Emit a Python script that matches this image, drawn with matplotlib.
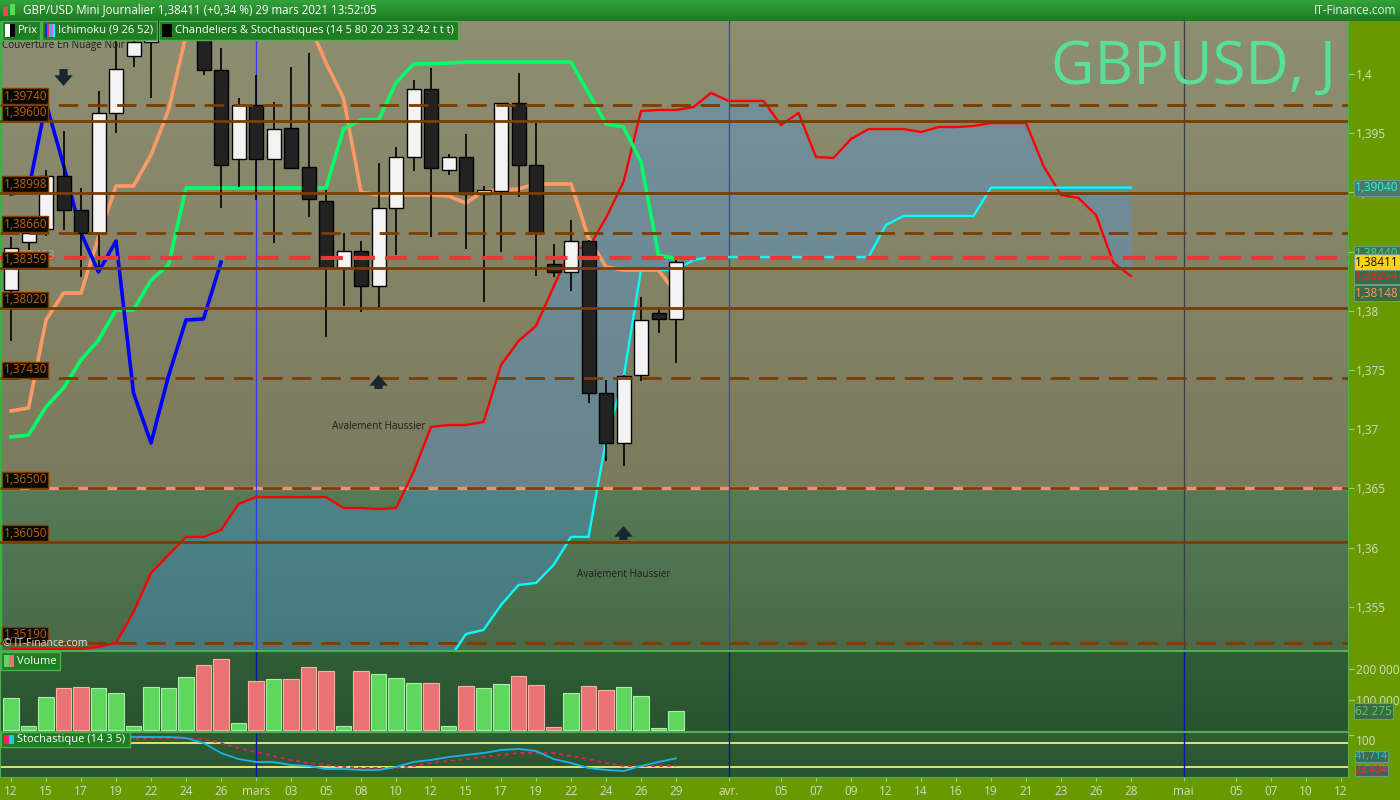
import numpy as np
import matplotlib
matplotlib.use('Agg')
import matplotlib.pyplot as plt
import matplotlib.colors as mcolors
from matplotlib.patches import Rectangle
from matplotlib import transforms
from matplotlib.ticker import FuncFormatter

plt.rcParams['font.family'] = ['Open Sans', 'DejaVu Sans']

'''
données (lues sur le graphique)
'''
# bougies journalières, du 12 février au 29 mars
ouv = [1.38176, 1.38581, 1.38691, 1.39138, 1.38851, 1.38657, 1.39671, 1.40152, 1.40270, 1.40500,
       1.40680, 1.40750, 1.40034, 1.39282, 1.39738, 1.39282, 1.39544, 1.39215, 1.38927, 1.38361,
       1.38505, 1.38209, 1.38868, 1.39299, 1.39873, 1.39189, 1.39299, 1.38986, 1.39012, 1.39755,
       1.39231, 1.38395, 1.38328, 1.38590, 1.37306, 1.36883, 1.37458, 1.37981, 1.37931]
haut = [1.38623, 1.38699, 1.39189, 1.39519, 1.39037, 1.39856, 1.40321, 1.40400, 1.40700, 1.40820,
        1.40900, 1.40800, 1.40220, 1.39797, 1.39992, 1.39763, 1.40059, 1.40177, 1.39020, 1.38657,
        1.38590, 1.39248, 1.39383, 1.39949, 1.40051, 1.39324, 1.39493, 1.39054, 1.39755, 1.40008,
        1.39586, 1.38564, 1.38767, 1.38598, 1.37416, 1.37458, 1.38117, 1.38032, 1.38429]
bas = [1.37745, 1.38513, 1.38632, 1.38682, 1.38285, 1.38370, 1.39502, 1.40059, 1.39797, 1.40500,
       1.40600, 1.39992, 1.38868, 1.39046, 1.38936, 1.38573, 1.39206, 1.38792, 1.37779, 1.38040,
       1.37990, 1.38032, 1.38471, 1.39181, 1.38623, 1.39147, 1.38522, 1.38074, 1.38497, 1.38961,
       1.38294, 1.38285, 1.38167, 1.37221, 1.36731, 1.36689, 1.37407, 1.37812, 1.37559]
clot = [1.38530, 1.38657, 1.39138, 1.38851, 1.38657, 1.39671, 1.40042, 1.40270, 1.40500, 1.40650,
        1.40750, 1.40034, 1.39231, 1.39738, 1.39282, 1.39535, 1.39206, 1.38944, 1.38361, 1.38505,
        1.38209, 1.38868, 1.39299, 1.39873, 1.39206, 1.39299, 1.38986, 1.39020, 1.39755, 1.39231,
        1.38657, 1.38328, 1.38590, 1.37306, 1.36883, 1.37449, 1.37922, 1.37931, 1.38411]

# ichimoku
tenkan = [1.36934, 1.36951, 1.37188, 1.37348, 1.37584, 1.37753, 1.38007, 1.38007, 1.38260, 1.38387,
          1.39037, 1.39037, 1.39037, 1.39037, 1.39037, 1.39037, 1.39037, 1.39037, 1.39037, 1.39535,
          1.39612, 1.39612, 1.39924, 1.40085, 1.40085, 1.40093, 1.40101, 1.40101, 1.40101, 1.40101,
          1.40101, 1.40101, 1.40101, 1.39840, 1.39578, 1.39552, 1.39257, 1.38471, 1.38440]
kijun = [1.37154, 1.37179, 1.37922, 1.38150, 1.38150, 1.38623, 1.39054, 1.39054, 1.39316, 1.39696,
         1.40329, 1.40650, 1.40650, 1.40650, 1.40650, 1.40650, 1.40650, 1.40439, 1.40093, 1.39797,
         1.39003, 1.38978, 1.38978, 1.38978, 1.38978, 1.38970, 1.38910, 1.39012, 1.39020, 1.39029,
         1.39071, 1.39071, 1.39071, 1.38615, 1.38370, 1.38345, 1.38345, 1.38345, 1.38148]
ssb = [1.35144, 1.35144, 1.35144, 1.35144, 1.35144, 1.35161, 1.35194, 1.35456, 1.35785, 1.35938,
       1.36090, 1.36090, 1.36149, 1.36368, 1.36427, 1.36427, 1.36427, 1.36427, 1.36427, 1.36334,
       1.36334, 1.36326, 1.36334, 1.36639, 1.37019, 1.37035, 1.37035, 1.37061, 1.37542, 1.37745,
       1.37872, 1.38201, 1.38530, 1.38530, 1.38784, 1.39088, 1.39688, 1.39696, 1.39696, 1.39721,
       1.39840, 1.39772, 1.39772, 1.39772, 1.39569, 1.39671, 1.39299, 1.39291, 1.39451, 1.39535,
       1.39535, 1.39535, 1.39510, 1.39552, 1.39552, 1.39561, 1.39586, 1.39586, 1.39586, 1.39223,
       1.38978, 1.38953, 1.38809, 1.38404, 1.38294]
ssa = [np.nan] * 25 + [
       1.35051, 1.35270, 1.35304, 1.35515, 1.35684, 1.35701, 1.35853, 1.36090, 1.36090, 1.36909,
       1.37432, 1.38345, 1.38345, 1.38345, 1.38429, 1.38454, 1.38454, 1.38454, 1.38454, 1.38454,
       1.38454, 1.38454, 1.38454, 1.38454, 1.38454, 1.38725, 1.38801, 1.38801, 1.38801, 1.38801,
       1.38801, 1.39040, 1.39040, 1.39040, 1.39040, 1.39040, 1.39040, 1.39040, 1.39040, 1.39040]
decalage_chikou = 26

volume = [104000, 15000, 107000, 137000, 140000, 137000, 120000, 15000, 140000, 137000,
          173000, 212000, 232000, 22000, 160000, 166000, 166000, 206000, 192000, 15000,
          192000, 183000, 170000, 153000, 153000, 15000, 143000, 137000, 150000, 177000,
          147000, 9000, 120000, 143000, 130000, 140000, 110000, 6000, 62275]

stoch_k = [93, 94, 95, 95, 95, 96, 95, 95, 95, 95, 92.5, 80, 55, 40, 32.5, 32.5, 25, 22.5, 15, 15,
           12.5, 12.5, 20, 32.5, 37.5, 45, 50, 55, 62.5, 65, 60, 40, 30, 17.5, 12.5, 10, 22.5, 32.5, 41.714]
stoch_d = [88, 89, 90, 91, 92, 92, 91, 90, 92, 92.5, 92.5, 90, 80, 67.5, 57.5, 47.5, 37.5, 30, 25, 20,
           17.5, 17.5, 17.5, 22.5, 30, 35, 40, 45, 50, 55, 55, 55, 47.5, 40, 30, 22.5, 22.5, 22.5, 23.404]

# niveaux horizontaux (supports / résistances)
niveaux = [1.39740, 1.39600, 1.38998, 1.38660, 1.38359, 1.38020, 1.37430, 1.36500, 1.36050, 1.35190]
tirets = [True, False, False, True, False, False, True, True, False, True]
ligne_rouge = 1.38445
zone = 1.365

# figures de chandeliers : (indice, y texte, y flèche début, y flèche fin, texte)
motifs = [(3, 1.40237, 1.40042, 1.39899, 'Couverture En Nuage Noir'),
          (21, 1.37019, 1.37340, 1.37458, 'Avalement Haussier'),
          (35, 1.35769, 1.36064, 1.36182, 'Avalement Haussier')]

# axe des dates
pos_ticks = [0, 2, 4, 6, 8, 10, 12, 14, 16, 18, 20, 22, 24, 26, 28, 30, 32, 34, 36, 38,
             41, 44, 46, 48, 50, 52, 54, 56, 58, 60, 62, 64, 67, 70, 72, 74, 76]
lab_ticks = ['12', '15', '17', '19', '22', '24', '26', 'mars', '03', '05', '08', '10', '12', '15',
             '17', '19', '22', '24', '26', '29', 'avr.', '05', '07', '09', '12', '14', '16', '19',
             '21', '23', '26', '28', 'mai', '05', '07', '10', '12']
mois = [14, 41, 67]

'''
mise en page
'''
W, H = 1400, 800
def fx(px):
    return px / W
def fy(py):
    return 1 - py / H

xmin, xmax = -0.63, 76.4
ymin, ymax = 1.35135, 1.40456
fond_axe = '#689a00'
gris_txt = '#d5dbc5'

def degrade(ax, x0, x1, y0, y1, c_haut, c_bas, z=0):
    t = np.linspace(0, 1, 200)[:, None, None]
    a = np.array(mcolors.to_rgb(c_haut))
    b = np.array(mcolors.to_rgb(c_bas))
    ax.imshow(a * (1 - t) + b * t, extent=[x0, x1, y0, y1], aspect='auto',
              origin='upper', zorder=z, interpolation='bilinear')

def etiquette(ax, y, txt, fc, tc, fs=8.5, pad=0.12):
    tr = transforms.blended_transform_factory(ax.transAxes, ax.transData)
    ax.annotate(txt, xy=(1, y), xycoords=tr, xytext=(5, 0), textcoords='offset points',
                ha='left', va='center', fontsize=fs, color=tc, annotation_clip=False, zorder=20,
                bbox=dict(boxstyle='square,pad=%g' % pad, fc=fc, ec='#6a9a8a', lw=0.8))

fig = plt.figure(figsize=(14, 8), dpi=100)
fig.patch.set_facecolor(fond_axe)

x_b = np.arange(len(clot))
x_n = np.arange(len(ssb))
o = np.array(ouv); c = np.array(clot); h = np.array(haut); l = np.array(bas)

# ---------- panneau principal
ax = fig.add_axes([0, fy(650), fx(1348), fy(20) - fy(650)])
degrade(ax, xmin, xmax, zone, ymax, '#8e8e73', '#7b7a5d')
degrade(ax, xmin, xmax, ymin, zone, '#577b57', '#4a6a47')

ssa_fill = np.where(np.isnan(ssa), ymin - 0.01, ssa)
ax.fill_between(x_n, ssb, ssa_fill, color='#3d9cff', alpha=0.3, lw=0, zorder=1)

ax.axhline(zone, color='#f0907c', lw=2.4, zorder=1.5)
for m in mois:
    ax.axvline(m, color='#3838f0' if m != mois[-1] else '#34404c', lw=0.9, zorder=1.5)

ax.plot(x_n, ssb, color='#ff0000', lw=1.7, zorder=3)
ax.plot(x_n, ssa, color='#00ffff', lw=1.7, zorder=3)
ax.plot(x_b, kijun, color='#ff9966', lw=2.6, zorder=3)
ax.plot(x_b, tenkan, color='#00ff66', lw=2.6, zorder=3)
ax.plot(x_b[:len(c) - decalage_chikou], c[decalage_chikou:], color='#0000ff', lw=2.6, zorder=3)

hausse = c >= o
ax.vlines(x_b, l, h, color='black', lw=1.2, zorder=4)
ax.bar(x_b, np.maximum(np.abs(c - o), 0.00006), bottom=np.minimum(o, c), width=0.8,
       color=np.where(hausse, '#f3f3f3', '#222222'), edgecolor='black', lw=1, zorder=4)

tr_g = transforms.blended_transform_factory(ax.transAxes, ax.transData)
for niv, ti in zip(niveaux, tirets):
    ax.axhline(niv, color='#7a3e00', lw=2, ls=(0, (7, 3.5)) if ti else '-', zorder=5)
    ax.annotate(('%.5f' % niv).replace('.', ','), xy=(0.001, niv), xycoords=tr_g,
                xytext=(1.5, 1.5), textcoords='offset points', ha='left', va='bottom',
                fontsize=8.5, color='#c0600a', zorder=6,
                bbox=dict(boxstyle='square,pad=0.12', fc='#080800', ec='#7a3e00', lw=1))
ax.axhline(ligne_rouge, color='#e83838', lw=3, ls=(0, (5.3, 2.4)), zorder=5)
ax.text(0.009, 1.38463, '1,38463', transform=tr_g, fontsize=8.5, color='#d8d8d0',
        alpha=0.5, va='center', zorder=5.5)

for i, yt, y0, y1, txt in motifs:
    ax.annotate('', xy=(i, y1), xytext=(i, y0), zorder=6,
                arrowprops=dict(arrowstyle='simple,head_length=0.55,head_width=0.95,tail_width=0.42',
                                fc='#1b2530', ec='none', mutation_scale=14, shrinkA=0, shrinkB=0))
    ax.text(i, yt, txt, ha='center', va='center', fontsize=7.2, color='#1e1e1e', zorder=6)

ax.text(0.991, 0.972, 'GBPUSD, J', transform=ax.transAxes, ha='right', va='top',
        fontsize=43, color='#58e098', zorder=6)
ax.text(0.002, 0.002, '© IT-Finance.com', transform=ax.transAxes, ha='left', va='bottom',
        fontsize=7.5, color='#e4e4e4', zorder=6)

ax.set_xlim(xmin, xmax)
ax.set_ylim(ymin, ymax)
ax.set_xticks([])
ax.yaxis.tick_right()
ax.set_yticks(np.arange(1.355, 1.4001, 0.005))
ax.yaxis.set_major_formatter(FuncFormatter(lambda v, p: ('%g' % round(v, 3)).replace('.', ',')))
ax.tick_params(axis='y', colors='#9fcf6f', labelcolor=gris_txt, labelsize=8.5, length=4, pad=2)
for s in ax.spines.values():
    s.set_color('#4caf50')
ax.spines['left'].set_linewidth(2.5)
ax.spines['left'].set_color('#3cb043')

etiquette(ax, ssa[-1], ('%.5f' % ssa[-1]).replace('.', ','), '#4c7a62', '#30f0f0')
etiquette(ax, tenkan[-1] + 0.0004, ('%.5f' % tenkan[-1]).replace('.', ','), '#3c7250', '#40e090')
etiquette(ax, ssb[-1], ('%.5f' % ssb[-1]).replace('.', ','), '#3c6a44', '#ff2020')
etiquette(ax, kijun[-1], ('%.5f' % kijun[-1]).replace('.', ','), '#3c6a44', '#ff9966')
etiquette(ax, clot[-1], ('%.5f' % clot[-1]).replace('.', ','), '#ffd21a', '#101010')

# ---------- volume
axv = fig.add_axes([0, fy(731), fx(1348), fy(651) - fy(731)])
degrade(axv, xmin, xmax, -3000, 259000, '#2f5e34', '#2b5330')
col_v = ['#5fd75f'] + ['#5fd75f' if d >= 0 else '#ea7272' for d in np.diff(c)]
bord_v = ['#a8f0a8' if cc == '#5fd75f' else '#f8b0a8' for cc in col_v]
axv.bar(x_b, volume, width=0.86, color=col_v, edgecolor=bord_v, lw=0.8, zorder=3)
for m in mois:
    axv.axvline(m, color='#0a14b4', lw=1, zorder=2)
axv.set_xlim(xmin, xmax)
axv.set_ylim(-3000, 259000)
axv.set_xticks([])
axv.yaxis.tick_right()
axv.set_yticks([100000, 200000])
axv.set_yticklabels(['100 000', '200 000'])
axv.tick_params(axis='y', colors='#9fcf6f', labelcolor=gris_txt, labelsize=8.5, length=4, pad=2)
for s in axv.spines.values():
    s.set_color('#4caf50')
etiquette(axv, volume[-1], '{:,}'.format(volume[-1]).replace(',', ' '), '#3c6a44', '#50d850')

# ---------- stochastique
axs = fig.add_axes([0, fy(777), fx(1348), fy(732) - fy(777)])
degrade(axs, xmin, xmax, -5, 107.5, '#2f5e34', '#2b5330')
axs.axhline(80, color='#f0f070', lw=1.3, zorder=2)
axs.axhline(20, color='#f0f070', lw=1.3, zorder=2)
for m in mois:
    axs.axvline(m, color='#0a14b4', lw=1, zorder=2)
axs.plot(x_b, stoch_d, color='#e0205a', lw=1.4, ls=(0, (2, 2)), zorder=3)
axs.plot(x_b, stoch_k, color='#18b4e8', lw=1.3, zorder=3)
axs.set_xlim(xmin, xmax)
axs.set_ylim(-5, 107.5)
axs.yaxis.tick_right()
axs.set_yticks([100])
axs.set_yticklabels(['100'], va='top')
axs.set_xticks(pos_ticks)
axs.set_xticklabels(lab_ticks)
axs.tick_params(axis='both', colors='#9fcf6f', labelcolor=gris_txt, labelsize=8.5, length=4, pad=2)
axs.tick_params(axis='x', length=3, pad=3)
for s in axs.spines.values():
    s.set_color('#4caf50')
etiquette(axs, stoch_k[-1] + 5, ('%.3f' % stoch_k[-1]).replace('.', ','), '#3c6a5a', '#20c8f0',
          fs=7.6, pad=0.0)
etiquette(axs, stoch_d[-1] - 11, ('%.3f' % stoch_d[-1]).replace('.', ','), '#3c6a4a', '#ff2060',
          fs=7.6, pad=0.0)

# ---------- barre de titre et légendes
axt = fig.add_axes([0, fy(21), 1, fy(0) - fy(21)])
degrade(axt, 0, 1, 0, 1, '#34a23a', '#1c7a22')
axt.set_xlim(0, 1); axt.set_ylim(0, 1); axt.axis('off')
fig.add_artist(Rectangle((fx(3), fy(16)), fx(5), 9 / H, transform=fig.transFigure, fc='#e05050', ec='none'))
fig.add_artist(Rectangle((fx(10), fy(15)), fx(5), 11 / H, transform=fig.transFigure, fc='#50e050', ec='none'))
fig.text(fx(23), fy(10), 'GBP/USD Mini Journalier 1,38411 (+0,34 %) 29 mars 2021 13:52:05',
         color='white', fontsize=8.3, va='center', ha='left')
fig.text(fx(1396), fy(10), 'IT-Finance.com', color='#e8f4e8', fontsize=8.5, va='center', ha='right')

def legende(x0, x1, y0, y1, txt, icone):
    fig.add_artist(Rectangle((fx(x0), fy(y1)), fx(x1 - x0), (y1 - y0) / H, transform=fig.transFigure,
                             fc='#1f7d22', ec='#4cb050', lw=1, zorder=10))
    larg = 10 / len(icone)
    for k, col in enumerate(icone):
        fig.add_artist(Rectangle((fx(x0 + 3 + k * larg), fy(y1 - 3)), fx(larg), (y1 - y0 - 6) / H,
                                 transform=fig.transFigure, fc=col, ec='none', zorder=11))
    fig.text(fx(x0 + 16), fy((y0 + y1) / 2), txt, color='white', fontsize=8,
             va='center', ha='left', zorder=12)

legende(2, 40, 21, 40, 'Prix', ['white', 'black'])
legende(42, 157, 21, 40, 'Ichimoku (9 26 52)', ['#2020ff', '#ff3030', '#20c0ff', '#ff50ff', '#00ffff'])
legende(159, 458, 21, 40, 'Chandeliers & Stochastiques (14 5 80 20 23 32 42 t t t)', ['black'])
legende(1, 60, 652, 670, 'Volume', ['#5fd75f', '#ea7272'])
legende(1, 130, 732, 747, 'Stochastique (14 3 5)', ['#ff1a70', '#18c8f0'])

fig.savefig('out.png', dpi=100, facecolor=fig.get_facecolor())
